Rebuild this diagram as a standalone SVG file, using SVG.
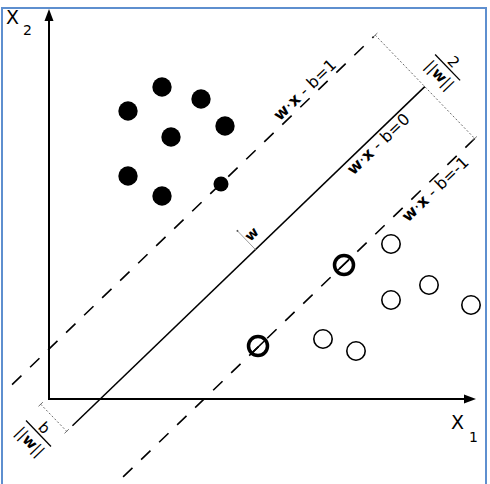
<svg xmlns="http://www.w3.org/2000/svg" width="490" height="484" viewBox="0 0 490 484">
<style>
  text { font-family: "DejaVu Sans", Verdana, sans-serif; fill: #000; }
  .axis { stroke: #000; stroke-width: 2; fill: none; }
  .dash { stroke: #000; stroke-width: 1.6; stroke-dasharray: 13 12; fill: none; }
  .solid { stroke: #000; stroke-width: 1.5; fill: none; }
  .dot { stroke: #666; stroke-width: 0.9; stroke-dasharray: 2 2; fill: none; }
  .tick { stroke: #666; stroke-width: 0.9; fill: none; }
  .bar { stroke: #000; stroke-width: 1.3; }
  .pos { fill: #000; }
  .neg { fill: #fff; stroke: #000; stroke-width: 1.6; }
  .sv { fill: none; stroke: #000; stroke-width: 3.5; }
  .lbl { font-size: 16px; text-anchor: middle; }
  .frac { font-size: 15px; text-anchor: middle; }
</style>
<rect x="0" y="0" width="490" height="484" fill="#fff"/>
<rect x="2" y="8" width="484" height="490" fill="none" stroke="#5e8fcf" stroke-width="2"/>

<g id="axes">
  <line class="axis" x1="49" y1="20" x2="49" y2="400"/>
  <polygon points="49,9 44.5,21 53.5,21" fill="#000"/>
  <line class="axis" x1="48" y1="399" x2="465" y2="399"/>
  <polygon points="476,399 464,394.5 464,403.5" fill="#000"/>
  <text x="6" y="24" font-size="19">X</text>
  <text x="23" y="35" font-size="14">2</text>
  <text x="451" y="429" font-size="19">X</text>
  <text x="469" y="442" font-size="14">1</text>
</g>

<g id="connectors">
  <g transform="rotate(-43.9)">
    <line class="dash" x1="-258" y1="285.5" x2="244" y2="285.5"/>
    <line class="solid" x1="-243" y1="357" x2="246" y2="357"/>
    <line class="dash" x1="-242" y1="429" x2="247" y2="429"/>
    <line class="solid" x1="-62" y1="429" x2="-46" y2="429"/>
    <line class="solid" x1="56" y1="429" x2="72" y2="429"/>
    <line class="dot" x1="246" y1="285.5" x2="246" y2="429"/>
    <line class="tick" x1="243" y1="285.5" x2="249" y2="285.5"/>
    <line class="tick" x1="243" y1="429" x2="249" y2="429"/>
    <line class="dot" x1="-251" y1="319.5" x2="-251" y2="357"/>
    <line class="tick" x1="-254" y1="319.5" x2="-248" y2="319.5"/>
    <line class="tick" x1="-254" y1="357" x2="-248" y2="357"/>
    <line stroke="#999" stroke-width="0.9" x1="11" y1="331" x2="11" y2="357"/>
    <circle cx="11" cy="331" r="1" fill="#555"/>
    <text class="lbl" x="157.4" y="281.5"><tspan font-weight="bold">w</tspan>·<tspan font-weight="bold">x</tspan> - b=1</text>
    <text class="lbl" x="172.6" y="371.5"><tspan font-weight="bold">w</tspan>·<tspan font-weight="bold">x</tspan> - b=0</text>
    <text class="lbl" x="182.4" y="443.5"><tspan font-weight="bold">w</tspan>·<tspan font-weight="bold">x</tspan> - b=-1</text>
    <text x="19" y="348" font-size="14" font-weight="bold" text-anchor="middle">w</text>
  </g>
</g>

<g id="margin-label" transform="translate(447.6,67.4) rotate(46.1)">
  <line class="bar" x1="-18" y1="0" x2="18" y2="0"/>
  <text class="frac" x="0" y="-3" font-size="17">2</text>
  <text class="frac" x="0" y="16.5">||<tspan font-weight="bold">w</tspan>||</text>
</g>

<g id="offset-label" transform="translate(38.5,433.5) rotate(46.1)">
  <line class="bar" x1="-18" y1="0" x2="18" y2="0"/>
  <text class="frac" x="0" y="-3" font-size="17">b</text>
  <text class="frac" x="0" y="17">||<tspan font-weight="bold">w</tspan>||</text>
</g>

<g id="class-pos">
  <circle class="pos" cx="162" cy="87" r="9.7"/>
  <circle class="pos" cx="201" cy="99" r="9.7"/>
  <circle class="pos" cx="128" cy="111" r="9.7"/>
  <circle class="pos" cx="225" cy="126" r="9.7"/>
  <circle class="pos" cx="171" cy="137" r="9.7"/>
  <circle class="pos" cx="128" cy="176" r="9.7"/>
  <circle class="pos" cx="162" cy="196" r="9.7"/>
  <circle class="pos" cx="221" cy="184" r="7.5"/>
</g>

<g id="class-neg">
  <circle class="neg" cx="391" cy="244" r="9.2"/>
  <circle class="neg" cx="429" cy="285" r="9.2"/>
  <circle class="neg" cx="391" cy="300" r="9.2"/>
  <circle class="neg" cx="471" cy="305" r="9.2"/>
  <circle class="neg" cx="323" cy="339" r="9.2"/>
  <circle class="neg" cx="356" cy="351" r="9.2"/>
</g>

<g id="support-vectors">
  <circle class="sv" cx="344" cy="265" r="9.5"/>
  <circle class="sv" cx="258" cy="346" r="9.5"/>
</g>
</svg>
